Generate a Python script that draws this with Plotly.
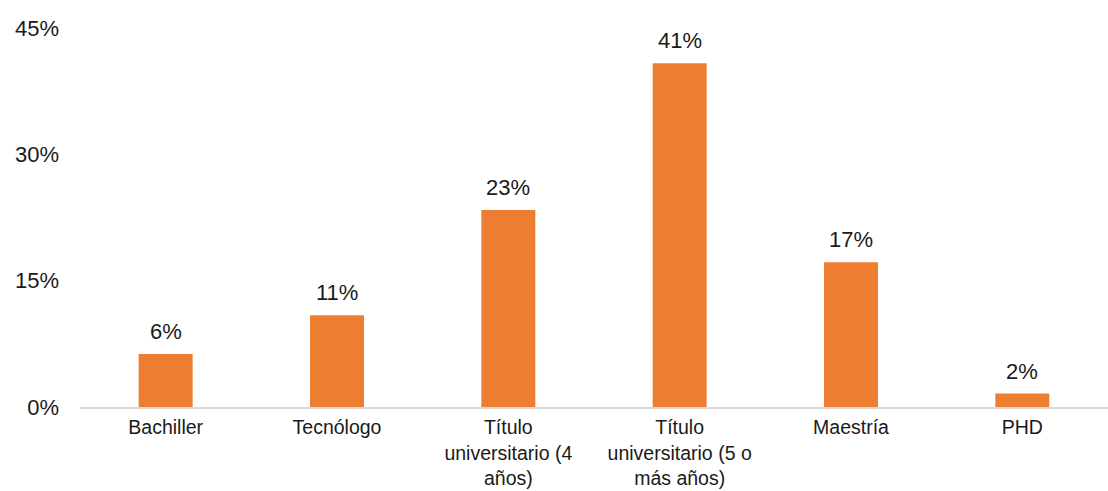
import plotly.graph_objects as go

# Nivel educativo: porcentaje de personas por categoría
categorias = [
    "Bachiller",
    "Tecnólogo",
    "Título<br>universitario (4<br>años)",
    "Título<br>universitario (5 o<br>más años)",
    "Maestría",
    "PHD",
]
porcentajes = [6.3, 10.9, 23.4, 40.8, 17.2, 1.6]
ticks_y = [0, 15, 30, 45]
ticks_y_texto = ["0%", "15%", "30%", "45%"]

NARANJA = "#ED7D31"
FUENTE = "Liberation Sans, Arial, sans-serif"

fig = go.Figure(
    go.Bar(
        x=categorias,
        y=porcentajes,
        marker=dict(color=NARANJA, line=dict(width=0)),
        width=0.315,
        hoverinfo="skip",
    )
)

# Etiquetas de valor sobre cada barra
for c, v in zip(categorias, porcentajes):
    fig.add_annotation(
        x=c, y=v, text=f"{round(v):.0f}%",
        showarrow=False, yanchor="bottom", yshift=8,
        font=dict(family=FUENTE, size=22, color="#1a1a1a"),
    )

fig.update_layout(
    width=1108, height=491,
    margin=dict(l=80, r=0, t=28, b=84),
    paper_bgcolor="white", plot_bgcolor="white",
    showlegend=False,
    font=dict(family=FUENTE, size=19, color="#1a1a1a"),
)
fig.update_xaxes(
    automargin=False,
    showline=True, linecolor="#D9D9D9", linewidth=2,
    showgrid=False, ticks="", tickangle=0,
    ticklabelstandoff=2,
    tickfont=dict(size=19.5),
)
fig.update_yaxes(
    automargin=False,
    range=[0, 45], tickvals=ticks_y, ticktext=ticks_y_texto,
    showgrid=False, zeroline=False, showline=False, ticks="",
    ticklabelstandoff=20,
    tickfont=dict(size=22),
)

fig.write_html("out.html")
